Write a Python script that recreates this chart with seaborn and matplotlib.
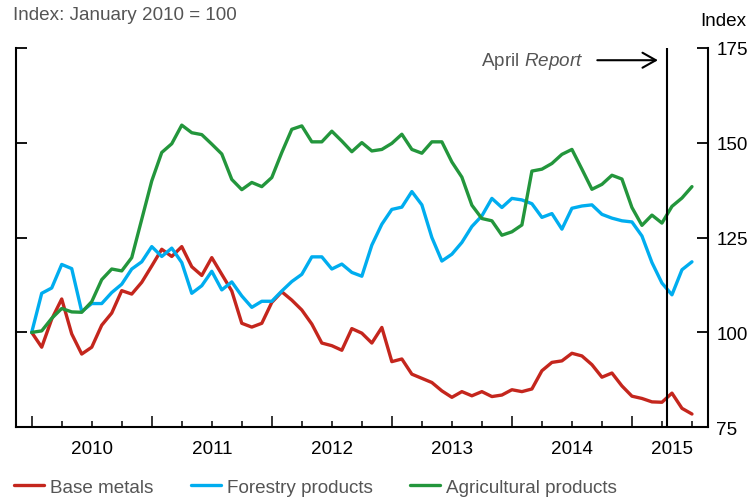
import numpy as np
import pandas as pd
import seaborn as sns
import matplotlib.pyplot as plt

# monthly index, Jan 2010 = month 0 ... Jul 2015 = month 66
months = np.arange(67)

base_metals = [100, 96.1, 103.5, 108.8, 99.6, 94.3, 96.1, 101.9, 105.1, 111.0, 110.1, 113.2,
               117.5, 121.9, 120.0, 122.6, 117.3, 115.0, 119.7, 115.3, 110.9, 102.4, 101.4, 102.4,
               107.9, 110.7, 108.5, 105.9, 102.2, 97.2, 96.5, 95.3, 101.0, 99.8, 97.2, 101.3,
               92.3, 93.0, 89.0, 87.9, 86.8, 84.6, 82.9, 84.4, 83.3, 84.4, 83.1, 83.5,
               84.9, 84.4, 85.1, 89.9, 92.1, 92.5, 94.5, 93.8, 91.5, 88.2, 89.3, 85.9,
               83.2, 82.6, 81.7, 81.6, 84.0, 80.0, 78.5]

forestry = [100, 110.3, 111.7, 117.9, 116.8, 105.5, 107.6, 107.6, 110.5, 112.7, 116.7, 118.6,
            122.6, 120.0, 122.2, 118.4, 110.3, 112.3, 116.1, 111.2, 113.3, 109.6, 106.6, 108.2,
            108.2, 110.9, 113.4, 115.3, 119.9, 119.9, 116.7, 118.0, 115.8, 114.8, 123.0, 128.5,
            132.4, 133.0, 137.1, 133.6, 125.0, 118.8, 120.6, 123.7, 127.9, 130.7, 135.3, 132.9,
            135.3, 134.9, 133.9, 130.3, 131.3, 127.2, 132.7, 133.3, 133.6, 131.1, 130.1, 129.4,
            129.1, 125.4, 118.4, 113.0, 109.9, 116.5, 118.6]

agricultural = [100, 100.4, 103.7, 106.3, 105.4, 105.3, 108.1, 113.9, 116.7, 116.2, 119.7, 129.8,
                139.9, 147.4, 149.7, 154.6, 152.6, 152.1, 149.6, 147.0, 140.3, 137.6, 139.5, 138.4,
                140.8, 147.4, 153.5, 154.4, 150.2, 150.2, 153.0, 150.4, 147.6, 150.0, 147.8, 148.2,
                149.8, 152.2, 148.2, 147.2, 150.2, 150.2, 144.9, 140.9, 133.5, 130.0, 129.4, 125.6,
                126.5, 128.3, 142.5, 143.0, 144.5, 146.9, 148.2, 143.0, 137.7, 139.0, 141.4, 140.4,
                132.9, 128.2, 130.9, 128.8, 133.2, 135.4, 138.4]

series_names = ['Base metals', 'Forestry products', 'Agricultural products']
colors = ['#C4261D', '#00ADEF', '#23963C']

year_labels = ['2010', '2011', '2012', '2013', '2014', '2015']
year_label_pos = [6, 18, 30, 42, 54, 64]
y_ticks = [75, 100, 125, 150, 175]
april_report = 63.5

df = pd.DataFrame({
    'month': np.tile(months, 3),
    'value': base_metals + forestry + agricultural,
    'series': np.repeat(series_names, len(months)),
})

sns.set_style('ticks')
plt.rcParams['font.family'] = ['Liberation Sans', 'DejaVu Sans']
plt.rcParams['mathtext.fontset'] = 'custom'
plt.rcParams['mathtext.rm'] = 'Liberation Sans'
plt.rcParams['mathtext.it'] = 'Liberation Sans:italic'

fs = 13.6
grey = '#555555'

fig = plt.figure(figsize=(7.51, 5.02), dpi=100)
ax = fig.add_axes([0.0209, 0.1468, 0.9218, 0.7562])

sns.lineplot(data=df, x='month', y='value', hue='series', hue_order=series_names,
             palette=colors, linewidth=2.4, ax=ax)
handles, labels = ax.get_legend_handles_labels()
ax.get_legend().remove()

ax.set_xlim(-1.6, 67.6)
ax.set_ylim(75, 175)
ax.set_xlabel('')
ax.set_ylabel('')

ax.spines['top'].set_visible(False)
for s in ['left', 'right', 'bottom']:
    ax.spines[s].set_linewidth(1.5)
    ax.spines[s].set_color('black')

ax.set_xticks(range(0, 61, 12))
ax.set_xticks(range(0, 67, 3), minor=True)
ax.tick_params(axis='x', which='major', direction='in', length=8, width=1.3, labelbottom=False)
ax.tick_params(axis='x', which='minor', direction='in', length=4.1, width=1.3)

ax.set_yticks(y_ticks)
ax.tick_params(axis='y', direction='in', left=True, right=True, labelleft=False,
               labelright=True, length=8, width=1.3, labelsize=fs, pad=6, colors='black')

for pos, lab in zip(year_label_pos, year_labels):
    ax.text(pos, -0.055, lab, transform=ax.get_xaxis_transform(), ha='center', va='center',
            fontsize=fs, color='black')

ax.axvline(april_report, color='black', lw=1.5)
ax.annotate(r'April $\mathit{Report}$', xy=(62.6, 171.7), xytext=(55.1, 171.7),
            ha='right', va='center', color=grey, fontsize=fs,
            arrowprops=dict(arrowstyle='->,head_length=0.8,head_width=0.45', color='black',
                            lw=1.5, shrinkA=8, shrinkB=0, mutation_scale=12))

fig.text(13 / 751, 1 - 16 / 502, 'Index: January 2010 = 100', ha='left', va='center',
         fontsize=fs, color=grey)
fig.text(700 / 751, 1 - 21 / 502, 'Index', ha='left', va='center', fontsize=fs, color='black')

fig.legend(handles, labels, loc='center left', bbox_to_anchor=(14 / 751, 1 - 488 / 502),
           ncol=3, frameon=False, fontsize=fs, handlelength=1.59, handletextpad=0.3,
           columnspacing=2.0, labelcolor=grey, borderaxespad=0, borderpad=0)

fig.savefig('out.png', dpi=100)
